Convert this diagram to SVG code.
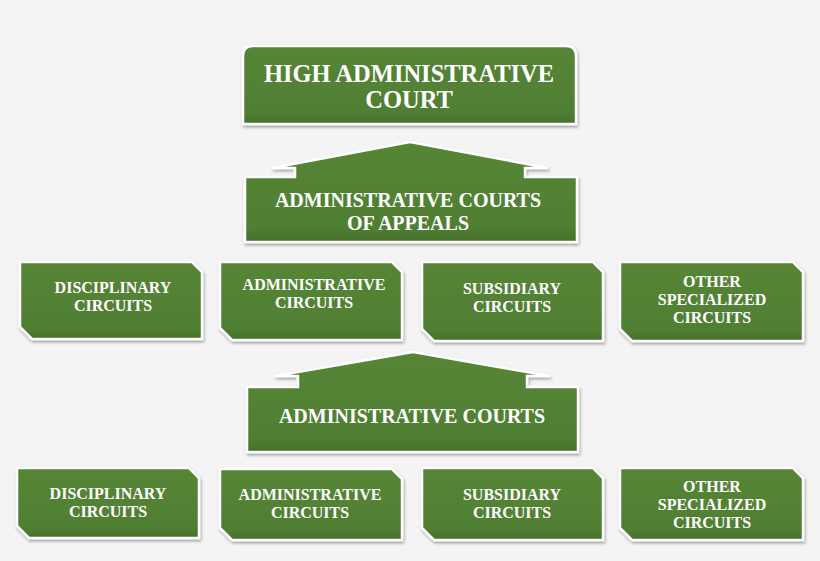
<svg xmlns="http://www.w3.org/2000/svg" width="820" height="561" viewBox="0 0 820 561">
  <defs>
    <filter id="sh" x="-10%" y="-10%" width="120%" height="130%">
      <feDropShadow dx="1" dy="2" stdDeviation="1.5" flood-color="#000" flood-opacity="0.35"/>
    </filter>
    <linearGradient id="g" x1="0" y1="0" x2="0" y2="1">
      <stop offset="0" stop-color="#558536"/>
      <stop offset="0.85" stop-color="#507f33"/>
      <stop offset="1" stop-color="#44702a"/>
    </linearGradient>
  </defs>
  <style>
    .box { fill: url(#g); stroke: #ffffff; stroke-width: 2.5; stroke-linejoin: miter; filter: url(#sh); }
    text { font-weight: bold; fill: #ffffff; text-anchor: middle; }
    .big { font-size: 24.5px; }
    .mid { font-size: 20px; }
    .sm { font-size: 16px; }
  </style>
  <rect x="0" y="0" width="820" height="561" fill="#f4f4f4"/>

  <g id="connectors"></g>

  <g id="nodes" font-family="Liberation Serif, serif">
  <g id="high-court">
    <path class="box" d="M243,124 V56 Q243,46 253,46 H566 Q576,46 576,56 V124 Z"/>
    <text class="big" x="409" y="82">HIGH ADMINISTRATIVE</text>
    <text class="big" x="409" y="108">COURT</text>
  </g>

  <g id="courts-of-appeals">
    <path class="box" d="M245,177 H295 V168 H272 L410,142 L548,168 H525 V177 H577 V242 H245 Z"/>
    <text class="mid" x="408" y="207">ADMINISTRATIVE COURTS</text>
    <text class="mid" x="408" y="230">OF APPEALS</text>
  </g>

  <g id="r1-disciplinary">
    <polygon class="box" points="20,262 192,262 202,272 202,339 32,339 20,327"/>
    <text class="sm" x="113" y="293">DISCIPLINARY</text>
    <text class="sm" x="113" y="311">CIRCUITS</text>
  </g>
  <g id="r1-administrative">
    <polygon class="box" points="220,262 392,262 402,272 402,340 232,340 220,328"/>
    <text class="sm" x="314" y="290">ADMINISTRATIVE</text>
    <text class="sm" x="314" y="308">CIRCUITS</text>
  </g>
  <g id="r1-subsidiary">
    <polygon class="box" points="422,262 593,262 603,272 603,341 434,341 422,329"/>
    <text class="sm" x="512" y="294">SUBSIDIARY</text>
    <text class="sm" x="512" y="312">CIRCUITS</text>
  </g>
  <g id="r1-other">
    <polygon class="box" points="620,262 793,262 803,272 803,341 632,341 620,329"/>
    <text class="sm" x="712" y="287">OTHER</text>
    <text class="sm" x="712" y="305">SPECIALIZED</text>
    <text class="sm" x="712" y="323">CIRCUITS</text>
  </g>

  <g id="administrative-courts">
    <path class="box" d="M247,387 H298 V376 H275 L413,352 L550,376 H527 V387 H578 V452 H247 Z"/>
    <text class="mid" x="412" y="423">ADMINISTRATIVE COURTS</text>
  </g>

  <g id="r2-disciplinary">
    <polygon class="box" points="17,468 189,468 199,478 199,538 29,538 17,526"/>
    <text class="sm" x="108" y="499">DISCIPLINARY</text>
    <text class="sm" x="108" y="517">CIRCUITS</text>
  </g>
  <g id="r2-administrative">
    <polygon class="box" points="220,469 392,469 402,479 402,540 232,540 220,528"/>
    <text class="sm" x="310" y="500">ADMINISTRATIVE</text>
    <text class="sm" x="310" y="518">CIRCUITS</text>
  </g>
  <g id="r2-subsidiary">
    <polygon class="box" points="422,468 593,468 603,478 603,540 434,540 422,528"/>
    <text class="sm" x="512" y="500">SUBSIDIARY</text>
    <text class="sm" x="512" y="518">CIRCUITS</text>
  </g>
  <g id="r2-other">
    <polygon class="box" points="620,468 793,468 803,478 803,540 632,540 620,528"/>
    <text class="sm" x="712" y="492">OTHER</text>
    <text class="sm" x="712" y="510">SPECIALIZED</text>
    <text class="sm" x="712" y="528">CIRCUITS</text>
  </g>
  </g>
</svg>
